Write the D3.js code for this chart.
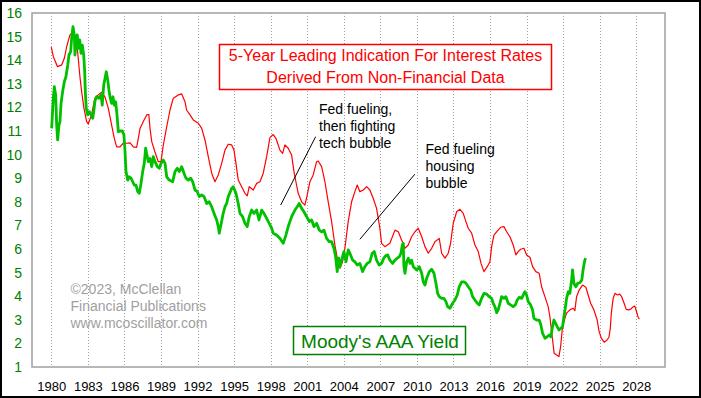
<!DOCTYPE html>
<html>
<head>
<meta charset="utf-8">
<script src="https://cdn.jsdelivr.net/npm/d3@7"></script>
<style>
  body { margin: 0; background: #fff; }
  svg { display: block; }
</style>
</head>
<body>
<div id="graphic"></div>
<script>
// chart values
const yearTicks = [1980, 1983, 1986, 1989, 1992, 1995, 1998, 2001, 2004, 2007, 2010, 2013, 2016, 2019, 2022, 2025, 2028];
const yieldTicks = [1, 2, 3, 4, 5, 6, 7, 8, 9, 10, 11, 12, 13, 14, 15, 16];

const titleLines = ["5-Year Leading Indication For Interest Rates", "Derived From Non-Financial Data"];
const legendLabel = "Moody's AAA Yield";
const creditLines = ["\u00a92023, McClellan", "Financial Publications", "www.mcoscillator.com"];
const techNote = ["Fed fueling,", "then fighting", "tech bubble"];
const housingNote = ["Fed fueling", "housing", "bubble"];
// pointer lines for the notes, [year, yield]
const techPointer = [[1998.82, 7.86], [2001.69, 10.76]];
const housingPointer = [[2005.32, 6.41], [2009.83, 9.17]];

// red line: leading indication, [year, value]
const leadingIndication = [
  [1980.0,14.55],[1980.17,14.15],[1980.5,13.73],[1980.85,13.8],[1981.07,14.08],[1981.26,14.57],[1981.53,15.07],
  [1981.8,15.2],[1982.0,14.86],[1982.16,14.36],[1982.35,13.3],[1982.49,12.67],[1982.68,11.96],[1982.9,11.4],
  [1983.03,11.3],[1983.3,11.68],[1983.58,12.39],[1983.85,12.53],[1984.13,12.64],[1984.4,12.45],[1984.68,11.96],
  [1984.95,11.25],[1985.17,10.69],[1985.36,10.33],[1985.64,10.33],[1985.9,10.48],[1986.18,10.48],[1986.46,10.5],
  [1986.73,10.33],[1987.0,10.31],[1987.14,10.69],[1987.28,11.11],[1987.55,11.4],[1987.83,11.68],[1988.0,11.7],
  [1988.1,11.11],[1988.24,10.55],[1988.5,10.12],[1988.78,9.7],[1989.0,9.7],[1989.19,10.4],[1989.47,11.18],
  [1989.74,11.89],[1990.01,12.39],[1990.42,12.53],[1990.7,12.57],[1990.97,12.24],[1991.1,11.89],[1991.38,11.68],
  [1991.65,11.47],[1992.06,11.33],[1992.34,11.11],[1992.61,10.62],[1992.88,9.91],[1993.16,9.21],[1993.43,8.85],
  [1993.7,9.14],[1993.98,9.63],[1994.25,10.19],[1994.52,10.44],[1994.8,10.41],[1994.99,10.19],[1995.15,9.63],
  [1995.34,8.92],[1995.62,8.64],[1995.89,8.36],[1996.08,8.25],[1996.24,8.64],[1996.57,8.5],[1996.85,8.78],
  [1997.12,8.85],[1997.39,9.21],[1997.67,9.91],[1997.94,10.72],[1998.21,10.85],[1998.43,10.69],[1998.76,10.19],
  [1998.98,10.05],[1999.17,10.41],[1999.44,10.27],[1999.72,9.98],[1999.91,9.28],[2000.07,8.85],[2000.26,8.36],
  [2000.54,8.0],[2000.81,7.86],[2001.0,8.29],[2001.22,8.85],[2001.49,9.14],[2001.77,9.7],[2001.9,9.73],
  [2002.18,9.49],[2002.45,8.85],[2002.72,8.0],[2003.0,7.16],[2003.27,6.17],[2003.54,5.39],[2003.68,5.18],
  [2003.9,5.46],[2004.09,6.03],[2004.36,7.16],[2004.64,8.0],[2004.91,8.43],[2005.1,8.71],[2005.32,8.43],
  [2005.6,8.5],[2005.87,8.64],[2006.14,8.5],[2006.41,8.15],[2006.69,7.72],[2006.96,6.88],[2007.1,6.24],
  [2007.37,6.1],[2007.78,6.24],[2008.2,6.8],[2008.47,6.73],[2008.74,6.38],[2009.02,6.03],[2009.29,6.17],
  [2009.56,6.52],[2009.84,6.73],[2010.11,6.88],[2010.39,6.52],[2010.66,6.1],[2010.93,5.82],[2011.21,6.03],
  [2011.48,6.31],[2011.83,6.45],[2012.03,5.82],[2012.3,5.61],[2012.57,5.82],[2012.76,6.24],[2012.98,7.09],
  [2013.26,7.58],[2013.53,7.68],[2013.8,7.51],[2014.02,7.16],[2014.21,6.88],[2014.49,6.67],[2014.76,6.17],
  [2015.03,5.89],[2015.26,5.39],[2015.5,5.04],[2015.77,5.25],[2015.99,5.46],[2016.13,6.1],[2016.32,6.59],
  [2016.59,6.76],[2016.87,6.92],[2017.14,6.95],[2017.36,6.73],[2017.63,6.52],[2017.9,6.17],[2018.12,5.75],
  [2018.31,5.89],[2018.51,5.99],[2018.78,6.03],[2019.0,5.75],[2019.27,5.65],[2019.49,5.25],[2019.76,5.04],
  [2020.03,4.97],[2020.23,4.4],[2020.5,3.98],[2020.77,3.56],[2020.91,3.13],[2021.1,2.28],[2021.26,1.58],
  [2021.46,1.51],[2021.65,1.44],[2021.79,1.86],[2021.92,2.57],[2022.06,2.92],[2022.28,3.28],[2022.55,3.42],
  [2022.82,3.49],[2022.96,3.39],[2023.1,3.98],[2023.31,4.26],[2023.59,4.47],[2023.86,4.38],[2024.05,4.05],
  [2024.25,3.7],[2024.52,3.42],[2024.79,2.99],[2024.95,2.5],[2025.15,2.2],[2025.36,2.05],[2025.55,2.12],
  [2025.75,2.25],[2025.87,2.65],[2025.95,3.28],[2026.1,3.91],[2026.25,4.12],[2026.45,4.05],[2026.64,4.09],
  [2026.8,3.98],[2027.0,3.7],[2027.17,3.44],[2027.4,3.42],[2027.58,3.47],[2027.75,3.56],[2027.88,3.58],
  [2028.02,3.34],[2028.15,3.11],[2028.25,3.03]
];

// green line: Moody's AAA yield, [year, value]
const aaaYield = [
  [1980.03,11.11],[1980.1,11.8],[1980.16,12.39],[1980.25,12.88],[1980.36,12.53],[1980.44,11.25],[1980.52,10.62],
  [1980.63,11.25],[1980.71,11.4],[1980.8,12.17],[1980.93,12.67],[1981.07,13.09],[1981.2,13.3],[1981.35,13.8],
  [1981.45,14.22],[1981.59,14.36],[1981.67,14.93],[1981.78,15.42],[1981.89,15.07],[1981.94,14.22],[1982.05,14.78],
  [1982.13,15.07],[1982.22,14.5],[1982.33,14.86],[1982.44,14.29],[1982.54,14.64],[1982.66,14.22],[1982.74,13.51],
  [1982.79,12.67],[1982.87,11.96],[1982.99,11.68],[1983.12,11.82],[1983.26,11.68],[1983.4,11.54],[1983.5,11.89],
  [1983.58,12.27],[1983.72,12.45],[1983.91,12.39],[1984.08,12.53],[1984.18,12.1],[1984.3,12.95],[1984.41,13.23],
  [1984.51,13.51],[1984.63,13.16],[1984.73,12.74],[1984.84,12.39],[1984.95,12.17],[1985.06,12.45],[1985.17,12.1],
  [1985.28,12.24],[1985.39,11.68],[1985.5,10.97],[1985.64,11.0],[1985.83,11.0],[1985.96,10.83],[1986.05,10.12],
  [1986.13,9.28],[1986.27,8.92],[1986.4,9.06],[1986.54,9.0],[1986.68,8.85],[1986.81,8.71],[1986.95,8.71],
  [1987.09,8.43],[1987.22,8.36],[1987.36,8.78],[1987.5,9.28],[1987.63,9.63],[1987.74,10.27],[1987.85,9.98],
  [1987.96,9.7],[1988.1,9.84],[1988.24,9.49],[1988.37,9.91],[1988.51,9.7],[1988.7,9.49],[1988.86,9.42],
  [1989.0,9.63],[1989.19,9.77],[1989.33,9.63],[1989.47,9.06],[1989.68,8.92],[1989.96,8.85],[1990.15,9.28],
  [1990.34,9.42],[1990.5,9.28],[1990.7,9.49],[1990.89,9.21],[1991.05,9.0],[1991.24,8.92],[1991.44,9.0],
  [1991.6,8.85],[1991.79,8.5],[1991.98,8.43],[1992.14,8.22],[1992.34,8.29],[1992.53,8.22],[1992.75,7.93],
  [1992.96,8.0],[1993.16,7.79],[1993.35,7.51],[1993.57,7.23],[1993.7,6.95],[1993.78,6.67],[1993.95,7.1],
  [1994.1,7.5],[1994.25,7.79],[1994.39,7.93],[1994.52,8.22],[1994.8,8.57],[1994.93,8.64],[1995.15,8.36],
  [1995.34,7.93],[1995.48,7.51],[1995.7,7.37],[1995.89,7.09],[1996.08,6.95],[1996.24,7.37],[1996.44,7.65],
  [1996.63,7.51],[1996.85,7.65],[1997.04,7.23],[1997.26,7.65],[1997.45,7.51],[1997.67,7.3],[1997.88,7.09],
  [1998.08,6.88],[1998.21,6.67],[1998.48,6.59],[1998.76,6.45],[1999.03,6.24],[1999.25,6.59],[1999.44,6.95],
  [1999.72,7.37],[1999.99,7.65],[2000.18,7.79],[2000.34,7.93],[2000.54,7.72],[2000.73,7.58],[2000.95,7.37],
  [2001.17,7.16],[2001.36,7.23],[2001.55,6.95],[2001.77,7.09],[2001.99,6.8],[2002.18,6.73],[2002.37,6.8],
  [2002.59,6.45],[2002.8,6.31],[2003.0,6.31],[2003.19,6.03],[2003.33,5.67],[2003.46,5.04],[2003.58,5.61],
  [2003.68,5.25],[2003.82,5.53],[2004.01,5.89],[2004.18,5.46],[2004.36,5.96],[2004.5,5.82],[2004.72,5.53],
  [2004.91,5.46],[2005.1,5.32],[2005.32,5.39],[2005.54,5.04],[2005.73,5.25],[2005.92,5.39],[2006.14,5.46],
  [2006.33,5.82],[2006.5,5.89],[2006.69,5.53],[2006.9,5.32],[2007.1,5.39],[2007.28,5.61],[2007.45,5.72],
  [2007.6,5.75],[2007.78,5.53],[2008.0,5.39],[2008.2,5.53],[2008.38,5.61],[2008.55,5.67],[2008.69,5.82],
  [2008.8,6.17],[2008.88,6.24],[2008.93,5.25],[2009.02,4.97],[2009.16,5.46],[2009.29,5.61],[2009.43,5.39],
  [2009.56,5.53],[2009.7,5.25],[2009.98,5.11],[2010.19,5.25],[2010.39,4.97],[2010.52,4.61],[2010.66,4.47],
  [2010.8,4.76],[2011.01,5.04],[2011.21,5.14],[2011.4,4.97],[2011.56,4.55],[2011.7,4.12],[2011.83,3.98],
  [2012.03,3.91],[2012.21,3.91],[2012.38,3.77],[2012.52,3.56],[2012.71,3.49],[2012.93,3.7],[2013.12,3.84],
  [2013.31,4.05],[2013.47,4.4],[2013.67,4.61],[2013.86,4.61],[2014.02,4.55],[2014.21,4.4],[2014.41,4.26],
  [2014.57,3.98],[2014.76,3.84],[2014.95,3.7],[2015.11,3.63],[2015.31,3.91],[2015.5,4.12],[2015.72,4.09],
  [2015.93,3.98],[2016.13,3.91],[2016.26,3.7],[2016.4,3.56],[2016.54,3.3],[2016.67,3.42],[2016.81,3.7],
  [2016.95,3.98],[2017.14,3.91],[2017.3,3.98],[2017.49,3.7],[2017.69,3.63],[2017.9,3.56],[2018.07,3.63],
  [2018.23,3.84],[2018.39,3.95],[2018.59,3.91],[2018.72,4.05],[2018.86,4.19],[2019.0,4.05],[2019.13,3.77],
  [2019.33,3.63],[2019.49,3.42],[2019.6,3.06],[2019.82,2.99],[2020.03,2.99],[2020.17,2.78],[2020.31,2.43],
  [2020.5,2.22],[2020.69,2.28],[2020.85,2.36],[2020.99,2.28],[2021.1,2.64],[2021.24,2.99],[2021.38,2.85],
  [2021.51,2.71],[2021.65,2.57],[2021.81,2.64],[2021.95,2.71],[2022.06,3.13],[2022.17,3.49],[2022.28,3.91],
  [2022.42,4.19],[2022.55,4.12],[2022.69,4.69],[2022.77,5.11],[2022.88,4.55],[2023.04,4.4],[2023.2,4.55],
  [2023.37,4.57],[2023.53,4.69],[2023.63,5.11],[2023.75,5.46],[2023.83,5.61]
];

const width = 701, height = 398;
const frame = {left: 32, top: 13, right: 665, bottom: 367};
const font = "'Liberation Sans', Arial, sans-serif";

const svg = d3.select("#graphic")
  .append("svg")
  .attr("width", width)
  .attr("height", height);

// outer border
svg.append("rect")
   .attr("x", 1).attr("y", 1)
   .attr("width", width - 2).attr("height", height - 2)
   .attr("fill", "#fff")
   .attr("stroke", "#000")
   .attr("stroke-width", 2);

const x = d3.scaleLinear()
            .domain([1980, 2028])
            .range([51.3, 636.3]);
const y = d3.scaleLinear()
            .domain([1, 16])
            .range([frame.bottom, frame.top]);

// dotted year gridlines
svg.append("g")
   .selectAll("line")
   .data(yearTicks)
   .join("line")
   .attr("x1", d => Math.round(x(d)) + 0.5)
   .attr("x2", d => Math.round(x(d)) + 0.5)
   .attr("y1", frame.top)
   .attr("y2", frame.bottom)
   .attr("stroke", "#a0a0a0")
   .attr("stroke-dasharray", "1,2");

// plot frame
svg.append("rect")
   .attr("x", frame.left).attr("y", frame.top)
   .attr("width", frame.right - frame.left)
   .attr("height", frame.bottom - frame.top)
   .attr("fill", "none")
   .attr("stroke", "#a0a0a0")
   .attr("stroke-width", 1.5);

// y axis labels (green, no ticks)
const yAxis = svg.append("g")
   .attr("transform", "translate(" + frame.left + ",0)")
   .call(d3.axisLeft(y).tickValues(yieldTicks).tickSize(0).tickPadding(10).tickFormat(d3.format("d")));
yAxis.select(".domain").remove();
yAxis.selectAll("text")
     .attr("fill", "#008000")
     .attr("font-family", font)
     .attr("font-size", 14);

// x axis labels
const xAxis = svg.append("g")
   .attr("transform", "translate(0," + frame.bottom + ")")
   .call(d3.axisBottom(x).tickValues(yearTicks).tickSize(0).tickPadding(15).tickFormat(d3.format("d")));
xAxis.select(".domain").remove();
xAxis.selectAll("text")
     .attr("fill", "#000")
     .attr("font-family", font)
     .attr("font-size", 13);

const line = d3.line()
               .x(d => x(d[0]))
               .y(d => y(d[1]));

// leading indication (red)
svg.append("path")
   .datum(leadingIndication)
   .attr("fill", "none")
   .attr("stroke", "#ff0000")
   .attr("stroke-width", 1.2)
   .attr("stroke-linejoin", "round")
   .attr("d", line);

// Moody's AAA (green)
svg.append("path")
   .datum(aaaYield)
   .attr("fill", "none")
   .attr("stroke", "#00c000")
   .attr("stroke-width", 2.8)
   .attr("stroke-linejoin", "round")
   .attr("d", line);

// title box
svg.append("rect")
   .attr("x", 219.5).attr("y", 44.5)
   .attr("width", 332).attr("height", 45)
   .attr("fill", "#fff")
   .attr("stroke", "#ff0000")
   .attr("stroke-width", 1.5);
svg.append("g")
   .selectAll("text")
   .data(titleLines)
   .join("text")
   .attr("x", 385.5)
   .attr("y", (d, i) => 61 + i * 22)
   .attr("text-anchor", "middle")
   .attr("fill", "#ff0000")
   .attr("font-family", font)
   .attr("font-size", 16)
   .text(d => d);

// legend box
svg.append("rect")
   .attr("x", 293.5).attr("y", 326.5)
   .attr("width", 172).attr("height", 28)
   .attr("fill", "#fff")
   .attr("stroke", "#008000")
   .attr("stroke-width", 1.5);
svg.append("text")
   .attr("x", 380)
   .attr("y", 347.5)
   .attr("text-anchor", "middle")
   .attr("fill", "#008000")
   .attr("font-family", font)
   .attr("font-size", 19)
   .text(legendLabel);

// credit text
svg.append("g")
   .selectAll("text")
   .data(creditLines)
   .join("text")
   .attr("x", 70.5)
   .attr("y", (d, i) => 294 + i * 17.2)
   .attr("fill", "#a0a0a0")
   .attr("font-family", font)
   .attr("font-size", 14)
   .text(d => d);

// notes and pointers
function addNote(lines, left, base) {
    svg.append("g")
       .selectAll("text")
       .data(lines)
       .join("text")
       .attr("x", left)
       .attr("y", (d, i) => base + i * 17)
       .attr("fill", "#000")
       .attr("font-family", font)
       .attr("font-size", 14)
       .text(d => d);
}
addNote(techNote, 319, 113.5);
addNote(housingNote, 425.5, 154);

[techPointer, housingPointer].forEach(p => {
    svg.append("path")
       .datum(p)
       .attr("fill", "none")
       .attr("stroke", "#000")
       .attr("stroke-width", 1)
       .attr("d", line);
});
</script>
</body>
</html>
